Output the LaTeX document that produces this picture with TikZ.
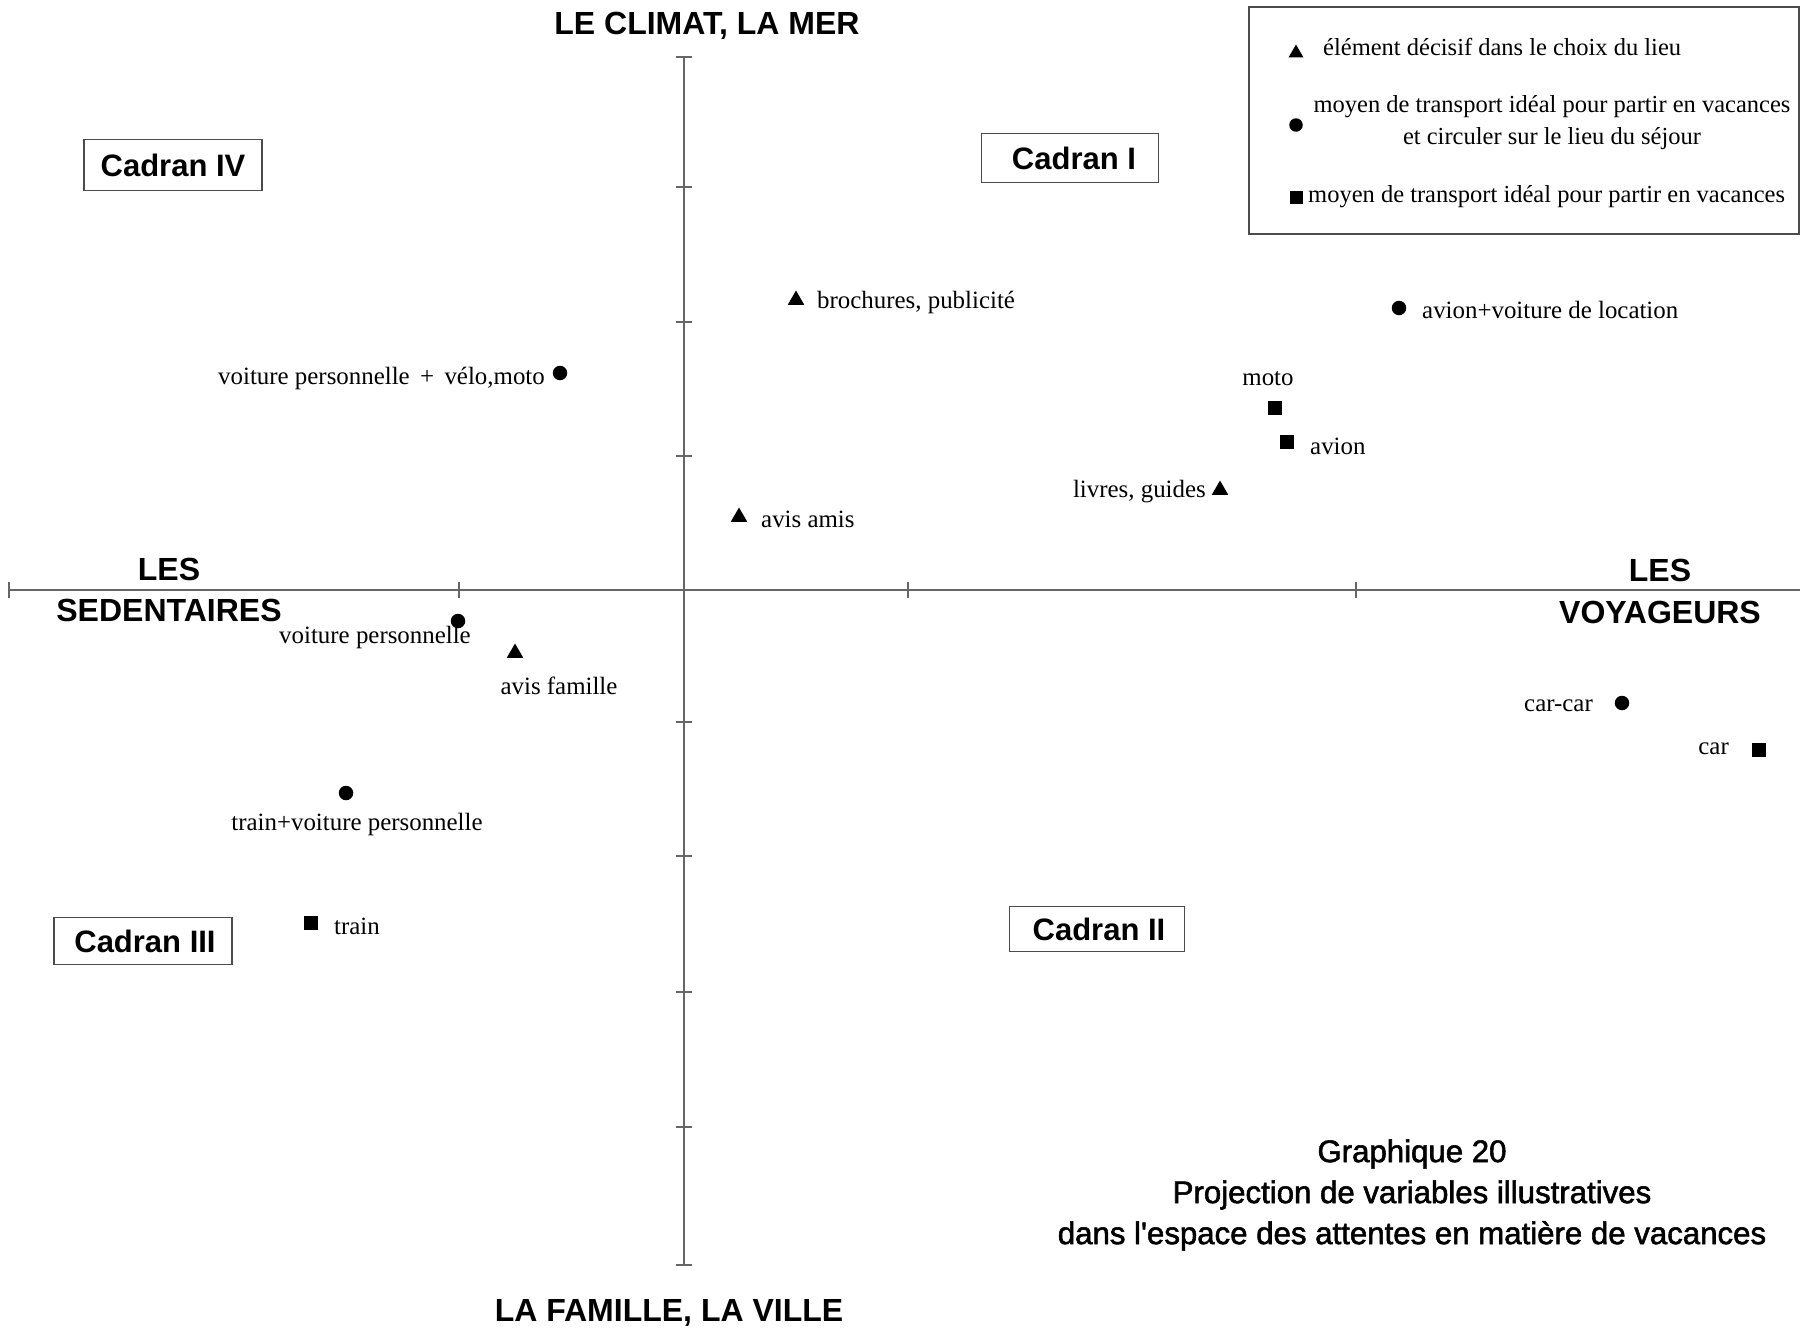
\documentclass[tikz,border=0pt]{standalone}
\usepackage{fontspec}
\setmainfont{Liberation Serif}
\newfontfamily\hsans{Liberation Sans}
\newfontfamily\capfont{Liberation Sans}[RawFeature={embolden=1.8}]
\usetikzlibrary{shapes.geometric}
\begin{document}
\begin{tikzpicture}[x=1pt,y=-1pt,
  axisline/.style={draw=black!60, line width=1.3pt},
  tickline/.style={draw=black!60, line width=1.2pt},
  tri/.style={regular polygon, regular polygon sides=3, fill=black, inner sep=0pt, minimum size=19pt},
  dotm/.style={circle, fill=black, inner sep=0pt, minimum size=14.5pt},
  sqm/.style={rectangle, fill=black, inner sep=0pt, minimum size=14pt},
  lbl/.style={font=\fontsize{24.9}{30}\selectfont, inner sep=0pt},
  leg/.style={font=\fontsize{24.5}{30}\selectfont, inner sep=0pt},
  big/.style={font=\hsans\bfseries\fontsize{32}{40}\selectfont, inner sep=0pt, align=center},
  cadran/.style={draw=black!70, line width=1.2pt, font=\hsans\bfseries\fontsize{31}{36}\selectfont, inner sep=0pt},
  capt/.style={font=\capfont\fontsize{31.2}{41}\selectfont, inner sep=0pt, align=center}
]
\useasboundingbox (0,0) rectangle (1800,1333);

% axes
\coordinate (vtop) at (684,57);
\coordinate (vbot) at (684,1265);
\coordinate (hleft) at (9,590);
\coordinate (hright) at (1800,590);
\draw[axisline] (vtop) -- (vbot);
\draw[axisline] (hleft) -- (hright);
\foreach \y in {57,187,322,456,722,856,992,1127,1265}
  \draw[tickline] (676,\y) -- (692,\y);
\foreach \x in {9,459,908,1356}
  \draw[tickline] (\x,582) -- (\x,598);

% axis titles
\node[big] (top) at (707,26) {LE CLIMAT, LA MER};
\node[big] (bottom) at (669,1313) {LA FAMILLE, LA VILLE};
\node[big] (sed1) at (169,569) {LES};
\node[big] (sed2) at (169,610) {SEDENTAIRES};
\node[big] (voy1) at (1660,570) {LES};
\node[big] (voy2) at (1660,612) {VOYAGEURS};

% cadrans
\node[cadran, minimum width=178pt, minimum height=51pt] (c4) at (173,165) {Cadran IV};
\node[cadran, minimum width=177pt, minimum height=49pt] (c1) at (1070,158) {\hspace{8pt}Cadran I};
\node[cadran, minimum width=178pt, minimum height=47pt] (c3) at (143,941) {\hspace{4pt}Cadran III};
\node[cadran, minimum width=175pt, minimum height=45pt] (c2) at (1097,929) {\hspace{4pt}Cadran II};

% legend
\draw[draw=black!70, line width=1.2pt] (1249,7) rectangle (1799,234);
\node[tri, minimum size=17pt] (lt) at (1296,53) {};
\node[leg, anchor=west] (ltt) at (1323,47) {élément décisif dans le choix du lieu};
\node[dotm, minimum size=13.5pt] (lc) at (1296,125) {};
\node[leg, align=center] (lct) at (1552,123) {moyen de transport idéal pour partir en vacances\\[2pt]et circuler sur le lieu du séjour};
\node[sqm, minimum size=13pt] (ls) at (1296,197) {};
\node[leg, anchor=west] (lst) at (1308,197) {moyen de transport idéal pour partir en vacances};

% points
\node[tri] (p1) at (796,300) {};
\node[lbl, anchor=west] (p1t) at (817,302) {brochures, publicité};
\node[dotm] (p2) at (1399,308) {};
\node[lbl, anchor=west] (p2t) at (1422,310) {avion+voiture de location};
\node[dotm] (p3) at (560,373) {};
\node[lbl, anchor=east] (p3t) at (545,378) {voiture personnelle \,+\, vélo,moto};
\node[lbl] (p4t) at (1268,379) {moto};
\node[sqm] (p4) at (1275,408) {};
\node[sqm] (p5) at (1287,442) {};
\node[lbl, anchor=west] (p5t) at (1310,446) {avion};
\node[tri] (p6) at (1220,490) {};
\node[lbl, anchor=east] (p6t) at (1206,492) {livres, guides};
\node[tri] (p7) at (739,517) {};
\node[lbl, anchor=west] (p7t) at (761,519) {avis amis};
\node[dotm] (p8) at (458,621) {};
\node[lbl] (p8t) at (375,638) {voiture personnelle};
\node[tri] (p9) at (515,653) {};
\node[lbl] (p9t) at (559,686) {avis famille};
\node[dotm] (p10) at (1622,703) {};
\node[lbl, anchor=east] (p10t) at (1593,706) {car-car};
\node[sqm] (p11) at (1759,750) {};
\node[lbl, anchor=east] (p11t) at (1729,749) {car};
\node[dotm] (p12) at (346,793) {};
\node[lbl] (p12t) at (357,825) {train+voiture personnelle};
\node[sqm] (p13) at (311,923) {};
\node[lbl, anchor=west] (p13t) at (334,926) {train};

% caption
\node[capt] (cap) at (1412,1195) {Graphique 20\\Projection de variables illustratives\\dans l'espace des attentes en matière de vacances};
\end{tikzpicture}
\end{document}
